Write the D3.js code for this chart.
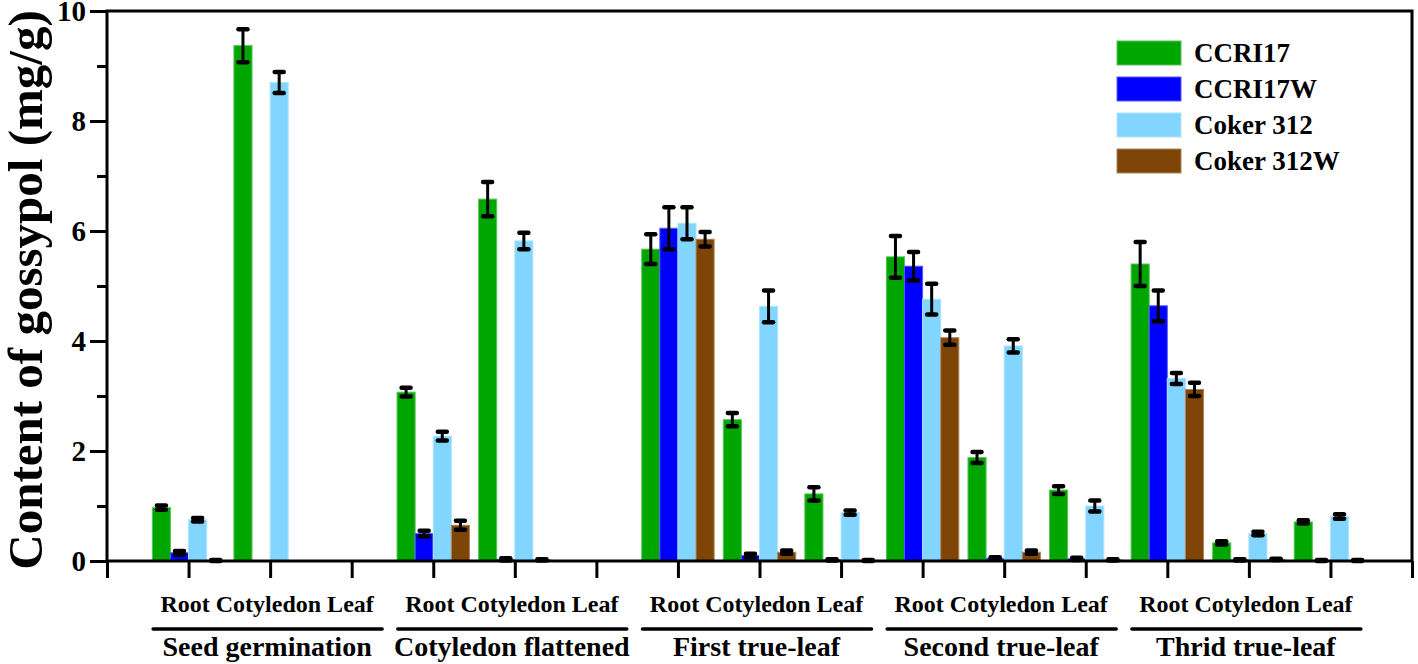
<!DOCTYPE html>
<html>
<head>
<meta charset="utf-8">
<script src="https://cdn.jsdelivr.net/npm/d3@7"></script>
<style>
  html, body { margin: 0; padding: 0; background: #fff; }
  svg { display: block; }
  text { font-family: "Liberation Serif", "Times New Roman", serif; font-weight: bold; fill: #000; }
</style>
</head>
<body>
<svg id="chart" width="1418" height="664"></svg>
<script>
// ---- data ----
const stages = ["Seed germination", "Cotyledon flattened", "First true-leaf", "Second true-leaf", "Thrid true-leaf"];
const tissues = ["Root", "Cotyledon", "Leaf"];
const seriesNames = ["CCRI17", "CCRI17W", "Coker 312", "Coker 312W"];
const seriesColors = ["#00A600", "#0000FF", "#82D5FF", "#7F4507"];

// values per series, 15 categories (stage x tissue); null = not measured
const ccri17      = [0.97, 9.37, null, 3.07, 6.58, null, 5.67, 2.57, 1.22, 5.53, 1.88, 1.29, 5.40, 0.33, 0.71];
const ccri17Err   = [0.04, 0.30, null, 0.08, 0.31, null, 0.27, 0.12, 0.12, 0.38, 0.10, 0.07, 0.40, 0.03, 0.03];
const ccri17w     = [0.15, null, null, 0.50, 0.03, null, 6.05, 0.10, 0.02, 5.36, 0.05, 0.04, 4.64, 0.02, 0.01];
const ccri17wErr  = [0.03, null, null, 0.05, 0.02, null, 0.38, 0.03, 0.01, 0.26, 0.02, 0.02, 0.28, 0.01, 0.01];
const coker312    = [0.75, 8.70, null, 2.27, 5.82, null, 6.14, 4.63, 0.88, 4.76, 3.91, 1.00, 3.32, 0.50, 0.81];
const coker312Err = [0.03, 0.19, null, 0.08, 0.15, null, 0.29, 0.29, 0.04, 0.28, 0.12, 0.10, 0.10, 0.03, 0.04];
const coker312w   = [0.01, null, null, 0.65, 0.02, null, 5.85, 0.16, 0.01, 4.06, 0.16, 0.02, 3.12, 0.03, 0.01];
const coker312wErr= [0.01, null, null, 0.08, 0.01, null, 0.13, 0.03, 0.01, 0.13, 0.03, 0.01, 0.12, 0.01, 0.01];

const yMajorTicks = [0, 2, 4, 6, 8, 10];
const yMinorTicks = [1, 3, 5, 7, 9];

const seriesValues = [ccri17, ccri17w, coker312, coker312w];
const seriesErrors = [ccri17Err, ccri17wErr, coker312Err, coker312wErr];

// ---- layout ----
const svg = d3.select("#chart");
const mLeft = 107, mRight = 1412, mTop = 11, mBottom = 561;
const nCat = stages.length * tissues.length;
const x = d3.scaleLinear().domain([0, nCat + 1]).range([mLeft, mRight]);
const y = d3.scaleLinear().domain([0, 10]).range([mBottom, mTop]);
const step = x(1) - x(0);
const barW = step * 0.222;

// bars
const rows = [];
seriesValues.forEach((vals, s) => {
  vals.forEach((v, c) => {
    if (v !== null) rows.push({ s, c, v, e: seriesErrors[s][c] });
  });
});

const lighter = c => d3.interpolateRgb(c, "#fff")(0.35);

svg.append("g").selectAll("rect").data(rows).join("rect")
  .attr("x", d => x(d.c + 1) + (d.s - 2) * barW)
  .attr("y", d => y(d.v))
  .attr("width", barW)
  .attr("height", d => y(0) - y(d.v))
  .attr("fill", d => seriesColors[d.s])
  .attr("stroke", d => lighter(seriesColors[d.s]))
  .attr("stroke-width", 1);

// error bars
const eb = svg.append("g").attr("stroke", "#000").attr("stroke-linecap", "round");
rows.forEach(d => {
  const cx = x(d.c + 1) + (d.s - 1.5) * barW;
  const y1 = y(d.v + d.e), y2 = y(d.v - d.e);
  const cw = 4.5;
  eb.append("line").attr("x1", cx).attr("x2", cx).attr("y1", y1).attr("y2", y2).attr("stroke-width", 3);
  eb.append("line").attr("x1", cx - cw).attr("x2", cx + cw).attr("y1", y1).attr("y2", y1).attr("stroke-width", 4.5);
  eb.append("line").attr("x1", cx - cw).attr("x2", cx + cw).attr("y1", y2).attr("y2", y2).attr("stroke-width", 4.5);
});

// frame
svg.append("rect").attr("x", mLeft).attr("y", mTop).attr("width", mRight - mLeft).attr("height", mBottom - mTop)
  .attr("fill", "none").attr("stroke", "#000").attr("stroke-width", 3);

// y axis ticks (outer)
const yAxis = svg.append("g").attr("transform", `translate(${mLeft},0)`)
  .call(d3.axisLeft(y).tickValues(yMajorTicks).tickSize(17).tickPadding(4).tickFormat(d3.format("d")));
yAxis.select(".domain").remove();
yAxis.selectAll(".tick line").attr("stroke-width", 3);
yAxis.selectAll(".tick text").style("font-size", "29px").style("font-family", "Liberation Serif").style("font-weight", "bold").attr("dy", "0.34em");
const yMinor = svg.append("g").attr("transform", `translate(${mLeft},0)`)
  .call(d3.axisLeft(y).tickValues(yMinorTicks).tickSize(10).tickFormat(""));
yMinor.select(".domain").remove();
yMinor.selectAll(".tick line").attr("stroke-width", 3);

// x axis ticks
const xAxis = svg.append("g").attr("transform", `translate(0,${mBottom})`)
  .call(d3.axisBottom(x).tickValues(d3.range(0, nCat + 2)).tickSize(17).tickFormat(""));
xAxis.select(".domain").remove();
xAxis.selectAll(".tick line").attr("stroke-width", 3);

// category labels
stages.forEach((st, i) => {
  const cx = x(i * 3 + 2);
  svg.append("text").attr("x", cx - 3).attr("y", 612).attr("text-anchor", "middle")
    .style("font-size", "24px").text(tissues.join(" "));
  svg.append("line").attr("x1", cx - 117).attr("x2", cx + 112).attr("y1", 629).attr("y2", 629)
    .attr("stroke", "#000").attr("stroke-width", 3.5).attr("stroke-linecap", "round");
  svg.append("text").attr("x", cx - 3).attr("y", 656).attr("text-anchor", "middle")
    .style("font-size", "28px").text(st);
});

// y label
svg.append("text").attr("transform", `translate(42,290) rotate(-90)`).attr("text-anchor", "middle")
  .style("font-size", "49px").text("Content of gossypol (mg/g)");

// legend
const lg = svg.append("g");
seriesNames.forEach((n, i) => {
  const yy = 41 + i * 36;
  lg.append("rect").attr("x", 1117).attr("y", yy).attr("width", 64).attr("height", 24)
    .attr("fill", seriesColors[i]).attr("stroke", lighter(seriesColors[i])).attr("stroke-width", 1);
  lg.append("text").attr("x", 1194).attr("y", yy + 12).attr("dy", "0.35em")
    .style("font-size", "27px").text(n);
});
</script>
</body>
</html>
